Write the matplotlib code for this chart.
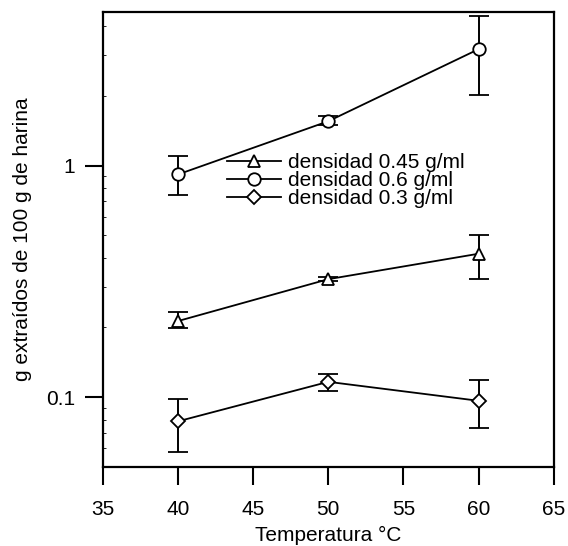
import matplotlib
import matplotlib.pyplot as plt
from matplotlib.lines import Line2D
from matplotlib.ticker import LogLocator, NullFormatter, FixedLocator, FixedFormatter
matplotlib.use('agg')

plt.rcParams['font.family'] = ['Liberation Sans', 'DejaVu Sans']

temps = [40, 50, 60]

# densidad 0.45 g/ml (triangulos)
d045 = [0.213, 0.323, 0.416]
d045_lo = [0.198, 0.316, 0.323]
d045_hi = [0.232, 0.330, 0.500]

# densidad 0.6 g/ml (circulos)
d06 = [0.915, 1.553, 3.18]
d06_lo = [0.745, 1.49, 2.01]
d06_hi = [1.097, 1.64, 4.40]

# densidad 0.3 g/ml (rombos)
d03 = [0.0786, 0.1164, 0.0964]
d03_lo = [0.0578, 0.1065, 0.0733]
d03_hi = [0.098, 0.1256, 0.1188]

series = [
    ('densidad 0.45 g/ml', '^', 9, d045, d045_lo, d045_hi),
    ('densidad 0.6 g/ml', 'o', 9, d06, d06_lo, d06_hi),
    ('densidad 0.3 g/ml', 'D', 7.5, d03, d03_lo, d03_hi),
]

xticks = [35, 40, 45, 50, 55, 60, 65]

fig = plt.figure(figsize=(5.68, 5.46), dpi=100)
ax = fig.add_axes([0.181, 0.145, 0.794, 0.833])

handles = []
for label, mk, ms, vals, lo, hi in series:
    err = [[v - l for v, l in zip(vals, lo)], [h - v for v, h in zip(vals, hi)]]
    style = dict(color='black', lw=1.3, marker=mk, ms=ms, mfc='white', mec='black', mew=1.3)
    ax.errorbar(temps, vals, yerr=err, capsize=7, capthick=1.4, elinewidth=1.4, **style)
    handles.append(Line2D([], [], label=label, **style))

ax.set_yscale('log')
ax.set_xlim(35, 65)
ax.set_ylim(0.05, 4.6)

ax.xaxis.set_major_locator(FixedLocator(xticks))
ax.yaxis.set_major_locator(FixedLocator([0.1, 1]))
ax.yaxis.set_major_formatter(FixedFormatter(['0.1', '1']))
ax.yaxis.set_minor_locator(LogLocator(base=10, subs=range(2, 10)))
ax.yaxis.set_minor_formatter(NullFormatter())

ax.tick_params(axis='both', which='major', direction='out', length=13, width=1.5,
               labelsize=15, pad=7)
ax.tick_params(axis='x', which='major', pad=11)
ax.tick_params(axis='y', which='minor', direction='in', length=2, width=0.6)
for sp in ax.spines.values():
    sp.set_linewidth(1.6)

ax.set_xlabel('Temperatura °C', fontsize=15, labelpad=5)
ax.set_ylabel('g extraídos de 100 g de harina', fontsize=15, labelpad=10)

ax.legend(handles=handles, loc='upper left', bbox_to_anchor=(0.275, 0.69), frameon=False,
          fontsize=15, handlelength=2.6, handletextpad=0.35, labelspacing=-0.05,
          borderaxespad=0, borderpad=0)

fig.savefig('out.png', dpi=100)
plt.close(fig)
